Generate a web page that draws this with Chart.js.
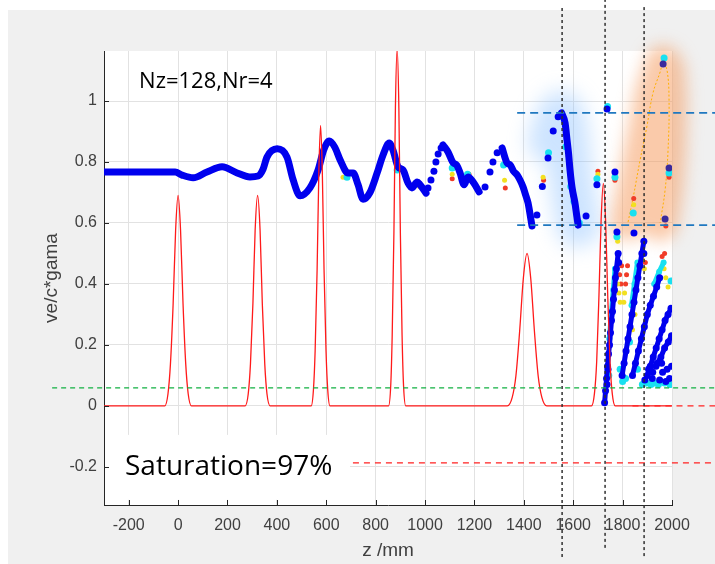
<!DOCTYPE html>
<html>
<head>
<meta charset="utf-8">
<script src="https://cdn.jsdelivr.net/npm/chart.js@4.4.1/dist/chart.umd.min.js"></script>
<style>
  html, body { margin: 0; padding: 0; background: #fff; }
  #wrap { width: 715px; height: 564px; }
</style>
</head>
<body>
<div id="wrap"><canvas id="plot" width="715" height="564"></canvas></div>
<script>
// axis ticks
const zTicks = [-200, 0, 200, 400, 600, 800, 1000, 1200, 1400, 1600, 1800, 2000];
const vTicks = [-0.2, 0, 0.2, 0.4, 0.6, 0.8, 1];

// field profile (red), [z, value]
const fieldProfile = [
  [-300, 0],
  [-54, 0], [-41, 0.039], [-31, 0.137], [-20, 0.336], [-10, 0.576], [0, 0.69], [10, 0.576], [20, 0.336], [31, 0.137], [41, 0.039], [54, 0],
  [271, 0], [284, 0.039], [293, 0.137], [303, 0.336], [312, 0.576], [322, 0.69], [332, 0.576], [341, 0.336], [351, 0.137], [360, 0.039], [373, 0],
  [539, 0], [548, 0.052], [555, 0.182], [563, 0.448], [570, 0.768], [577, 0.92], [584, 0.768], [591, 0.448], [599, 0.182], [606, 0.052], [615, 0],
  [852, 0], [861, 0.066], [867, 0.232], [874, 0.57], [880, 0.977], [887, 1.17], [894, 0.977], [900, 0.57], [907, 0.232], [913, 0.066], [922, 0],
  [1333, 0], [1353, 0.028], [1368, 0.099], [1383, 0.244], [1398, 0.418], [1413, 0.5], [1428, 0.418], [1443, 0.244], [1458, 0.099], [1473, 0.028], [1493, 0],
  [1674, 0], [1686, 0.041], [1695, 0.145], [1704, 0.356], [1713, 0.61], [1722, 0.73], [1731, 0.61], [1740, 0.356], [1749, 0.145], [1758, 0.041], [1770, 0],
  [2000, 0]
];

// ve/c*gama along z, dense stretches
const beamSeg1 = [
  [-300, 0.767], [-150, 0.767], [-12, 0.767], [16, 0.757], [61, 0.748], [117, 0.767], [178, 0.784],
  [239, 0.764], [291, 0.751], [324, 0.754], [344, 0.776], [360, 0.816], [401, 0.843], [441, 0.816],
  [466, 0.741], [494, 0.689], [534, 0.715], [567, 0.774], [590, 0.84], [612, 0.869], [635, 0.848],
  [656, 0.807], [688, 0.764], [709, 0.764], [729, 0.725], [749, 0.678], [777, 0.70], [806, 0.764],
  [830, 0.823], [855, 0.862], [870, 0.839], [891, 0.784], [911, 0.774], [931, 0.731], [947, 0.715],
  [968, 0.734], [980, 0.725], [1004, 0.698]
];
const beamSeg2 = [
  [1073, 0.856], [1093, 0.833], [1114, 0.797], [1128, 0.790], [1142, 0.764], [1158, 0.725],
  [1174, 0.751], [1195, 0.734], [1219, 0.702]
];
const beamSeg3 = [
  [1312, 0.846], [1332, 0.797], [1345, 0.79], [1358, 0.77], [1373, 0.757], [1385, 0.74],
  [1397, 0.718], [1408, 0.69], [1417, 0.666], [1425, 0.63], [1433, 0.59]
];
const beamSeg4 = [
  [1553, 0.961], [1567, 0.928], [1575, 0.872], [1581, 0.829], [1587, 0.774], [1595, 0.718],
  [1607, 0.666], [1615, 0.62], [1620, 0.593]
];

// slanted particle streaks after z=1700
const streakA = [
  [1727, 0.01], [1731, 0.05], [1735, 0.09], [1739, 0.13], [1743, 0.17], [1747, 0.20], [1751, 0.24],
  [1755, 0.28], [1759, 0.31], [1763, 0.35], [1767, 0.38], [1771, 0.42], [1775, 0.45], [1782, 0.50]
];
const streakB = [
  [1798, 0.10], [1806, 0.14], [1814, 0.18], [1822, 0.22], [1830, 0.26], [1838, 0.30], [1846, 0.34],
  [1854, 0.38], [1862, 0.42], [1870, 0.46], [1878, 0.50], [1886, 0.54]
];
const streakC = [
  [1840, 0.10], [1852, 0.14], [1864, 0.18], [1876, 0.22], [1888, 0.26], [1900, 0.30], [1912, 0.33],
  [1925, 0.36], [1938, 0.39], [1950, 0.42]
];
const streakD = [
  [1900, 0.10], [1912, 0.13], [1924, 0.16], [1936, 0.19], [1948, 0.22], [1960, 0.25], [1972, 0.28],
  [1984, 0.30], [1996, 0.32]
];
const streakE = [[1940, 0.14], [1955, 0.16], [1970, 0.19], [1985, 0.21], [1998, 0.23]];
const cyanStreaks = [
  [[1746, 0.22], [1754, 0.30], [1762, 0.38], [1769, 0.45]],
  [[1836, 0.33], [1848, 0.40], [1860, 0.47]],
  [[1928, 0.40], [1948, 0.44], [1966, 0.47]]
];

// scattered particles, coloured by group
const blueDots = [
  [1012, 0.715], [1024, 0.741], [1036, 0.770], [1044, 0.800], [1053, 0.826], [1065, 0.846],
  [1243, 0.718], [1263, 0.767], [1275, 0.800], [1292, 0.830],
  [1453, 0.626], [1475, 0.72], [1498, 0.813], [1519, 0.902], [1539, 0.948], [1652, 0.623],
  [1696, 0.725], [1737, 0.974], [1769, 0.767], [1777, 0.57], [1846, 0.567],
  [1890, 0.085], [1905, 0.12], [1920, 0.09], [1935, 0.13], [1950, 0.085], [1962, 0.11], [1975, 0.08],
  [1990, 0.09], [1998, 0.13], [1741, 0.12], [1737, 0.07], [1784, 0.47], [1886, 0.50],
  [1922, 0.11], [1980, 0.12], [1958, 0.14]
];
const purpleDots = [[1964, 1.121], [1988, 0.78], [1972, 0.613]];
const cyanDots = [
  [684, 0.75], [887, 0.774], [1110, 0.78], [1172, 0.76], [1318, 0.79], [1500, 0.83], [1570, 0.85],
  [1590, 0.72], [1603, 0.67], [1625, 0.6], [1739, 0.982], [1696, 0.745], [1769, 0.75], [1777, 0.555],
  [1843, 0.633], [1968, 1.141], [1988, 0.764],
  [1828, 0.21], [1996, 0.41], [1800, 0.08], [1812, 0.09], [1744, 0.10], [1790, 0.12], [1860, 0.12],
  [1880, 0.07], [1897, 0.075], [1915, 0.07], [1930, 0.075], [1945, 0.07], [1970, 0.075], [1992, 0.07]
];
const yellowDots = [
  [668, 0.75], [978, 0.72], [1110, 0.76], [1175, 0.745], [1322, 0.74], [1478, 0.75], [1587, 0.80],
  [1700, 0.76], [1780, 0.54], [1845, 0.66], [1780, 0.40], [1785, 0.37], [1790, 0.34], [1805, 0.34],
  [1808, 0.37], [1880, 0.48], [1888, 0.45], [1968, 0.45], [1975, 0.42], [1984, 0.39], [1840, 0.25], [1850, 0.30]
];
const redDots = [
  [898, 0.78], [978, 0.73], [1110, 0.745], [1178, 0.76], [1325, 0.715], [1480, 0.74], [1580, 0.82],
  [1598, 0.69], [1700, 0.77], [1769, 0.74], [1845, 0.68], [1788, 0.43], [1793, 0.40], [1796, 0.46],
  [1812, 0.40], [1816, 0.43], [1820, 0.46], [1880, 0.505], [1892, 0.47], [1960, 0.49], [1970, 0.50],
  [1988, 0.75], [1975, 0.59]
];

// orange dotted arc on the right
const orangeArc = [
  [1822, 0.603], [1843, 0.685], [1871, 0.807], [1898, 0.915], [1923, 1.026], [1952, 1.095],
  [1964, 1.124], [1980, 1.10], [1988, 1.003], [1984, 0.839], [1972, 0.708], [1952, 0.60]
];

// marker lines
const blueLevels = [0.961, 0.593];
const greenLevel = 0.059;
const redLevels = [0, -0.187];
const markerZ = [1555, 1729, 1887];

const FONT = '"Liberation Sans", Arial, sans-serif';
const TEXT = '#404040';
const BLUE = '#0000ee';

const toXY = arr => arr.map(([x, y]) => ({ x, y }));

function dots(data, color, r) {
  return {
    type: 'scatter', data: toXY(data), showLine: false,
    pointRadius: r, pointHoverRadius: r, pointBackgroundColor: color, pointBorderWidth: 0
  };
}
function beamLine(data) {
  return {
    type: 'line', data: toXY(data), borderColor: BLUE, borderWidth: 7,
    pointRadius: 0, cubicInterpolationMode: 'monotone', borderCapStyle: 'round', borderJoinStyle: 'round'
  };
}
function streak(data, color, w, r) {
  return {
    type: 'line', data: toXY(data), borderColor: color, borderWidth: w, borderCapStyle: 'round',
    pointRadius: r, pointBackgroundColor: color, pointBorderWidth: 0, tension: 0
  };
}

function strokeGlow(ctx, chart, pts, width, color, blur) {
  const sx = chart.scales.x, sy = chart.scales.y;
  ctx.save();
  ctx.filter = 'blur(' + blur + 'px)';
  ctx.strokeStyle = color;
  ctx.lineWidth = width;
  ctx.lineCap = 'round';
  ctx.lineJoin = 'round';
  ctx.beginPath();
  pts.forEach(([z, v], i) => {
    const x = sx.getPixelForValue(z), y = sy.getPixelForValue(v);
    if (i) ctx.lineTo(x, y); else ctx.moveTo(x, y);
  });
  ctx.stroke();
  ctx.restore();
}

const decor = {
  id: 'decor',
  beforeDraw(chart) {
    const { ctx, chartArea: a } = chart;
    ctx.save();
    ctx.fillStyle = '#ffffff';
    ctx.fillRect(0, 0, chart.width, chart.height);
    ctx.fillStyle = '#f0f0f0';
    ctx.fillRect(8, 10, chart.width - 8, chart.height - 10);
    ctx.fillStyle = '#ffffff';
    ctx.fillRect(a.left, a.top, a.right - a.left, a.bottom - a.top);
    ctx.restore();
  },
  beforeDatasetsDraw(chart) {
    const ctx = chart.ctx;
    strokeGlow(ctx, chart, [[1505, 0.87], [1539, 0.95]].concat(beamSeg4), 44, 'rgba(135,190,255,0.42)', 10);
    strokeGlow(ctx, chart, orangeArc, 36, 'rgba(245,150,85,0.5)', 8);
  },
  afterDraw(chart) {
    const { ctx, chartArea: a } = chart;
    const sx = chart.scales.x, sy = chart.scales.y;
    const X = z => sx.getPixelForValue(z), Y = v => sy.getPixelForValue(v);
    ctx.save();

    // white label box at the bottom left of the axes
    ctx.fillStyle = '#ffffff';
    ctx.fillRect(a.left + 1, Y(-0.095), X(696) - a.left - 1, Y(-0.308) - Y(-0.095));

    // inward tick marks
    ctx.strokeStyle = '#262626';
    ctx.lineWidth = 1;
    ctx.beginPath();
    zTicks.forEach(z => { const x = Math.round(X(z)) + 0.5; ctx.moveTo(x, a.bottom); ctx.lineTo(x, a.bottom - 5); });
    vTicks.forEach(v => { const y = Math.round(Y(v)) + 0.5; ctx.moveTo(a.left, y); ctx.lineTo(a.left + 5, y); });
    ctx.stroke();

    const hline = (v, zFrom, color, dash, w) => {
      ctx.strokeStyle = color; ctx.lineWidth = w; ctx.setLineDash(dash);
      ctx.beginPath(); ctx.moveTo(X(zFrom), Y(v)); ctx.lineTo(chart.width, Y(v)); ctx.stroke();
    };
    blueLevels.forEach(v => hline(v, 1373, '#1f78c0', [8, 5], 1.6));
    hline(greenLevel, -510, '#10b040', [5, 4], 1.4);
    hline(redLevels[0], 1840, '#ff2020', [6, 5], 1.4);
    hline(redLevels[1], 708, '#ff2020', [6, 5], 1.4);

    // vertical dotted markers
    ctx.strokeStyle = '#303030'; ctx.lineWidth = 1.5; ctx.setLineDash([3, 3]);
    const spans = [[1.305, -0.498], [1.335, -0.472], [1.308, -0.498]];
    markerZ.forEach((z, i) => {
      ctx.beginPath(); ctx.moveTo(X(z), Y(spans[i][0])); ctx.lineTo(X(z), Y(spans[i][1])); ctx.stroke();
    });
    ctx.setLineDash([]);

    // text annotations
    ctx.fillStyle = '#000000';
    ctx.textBaseline = 'alphabetic';
    ctx.font = '22px "Open Sans", sans-serif';
    ctx.fillText('Nz=128,Nr=4', X(-158), Y(1.043));
    ctx.font = '28px "Open Sans", sans-serif';
    ctx.fillText('Saturation=97%', X(-215), Y(-0.226));
    ctx.restore();
  }
};

new Chart(document.getElementById('plot'), {
  type: 'line',
  data: {
    datasets: [
      {
        type: 'line', data: toXY(fieldProfile), borderColor: '#ff1a1a', borderWidth: 1.3,
        pointRadius: 0, cubicInterpolationMode: 'monotone'
      },
      beamLine(beamSeg1),
      beamLine(beamSeg2),
      beamLine(beamSeg3),
      beamLine(beamSeg4),
      dots(blueDots, BLUE, 3.5),
      streak(streakA, BLUE, 5, 3.5),
      streak(streakB, BLUE, 5, 3.5),
      streak(streakC, BLUE, 5, 3.5),
      streak(streakD, BLUE, 5, 3.5),
      streak(streakE, BLUE, 5, 3.5),
      dots(purpleDots, '#3a2a9c', 3.5),
      dots(cyanDots, '#18e0f0', 3.5),
      ...cyanStreaks.map(s => streak(s, '#18e0f0', 5, 3)),
      dots(yellowDots, '#f2e020', 2.5),
      dots(redDots, '#f03c28', 2.5),
      {
        type: 'line', data: toXY(orangeArc), borderColor: '#ffb000', borderWidth: 1,
        borderDash: [2, 2], pointRadius: 0, tension: 0.4
      }
    ]
  },
  options: {
    responsive: false,
    animation: false,
    events: [],
    layout: { padding: { left: 0, top: 51, right: 43, bottom: 0 } },
    plugins: { legend: { display: false }, tooltip: { enabled: false } },
    scales: {
      x: {
        type: 'linear', min: -300, max: 2000,
        afterBuildTicks: s => { s.ticks = zTicks.map(v => ({ value: v })); },
        afterFit: s => { s.height = 59; },
        ticks: { callback: v => String(v), font: { family: FONT, size: 16 }, color: TEXT, padding: 11, maxRotation: 0 },
        grid: { color: '#e2e2e2', drawTicks: false },
        border: { color: '#262626' },
        title: { display: true, text: 'z /mm', font: { family: FONT, size: 19 }, color: TEXT, padding: { top: 0, bottom: 2 } }
      },
      y: {
        type: 'linear', min: -0.325, max: 1.164,
        afterBuildTicks: s => { s.ticks = vTicks.map(v => ({ value: v })); },
        afterFit: s => { s.width = 104; },
        ticks: { callback: v => String(v), font: { family: FONT, size: 16 }, color: TEXT, padding: 7 },
        grid: { color: '#e2e2e2', drawTicks: false },
        border: { color: '#262626' },
        title: { display: true, text: 've/c*gama', font: { family: FONT, size: 19 }, color: TEXT, padding: { top: 40, bottom: 0 } }
      }
    }
  },
  plugins: [decor]
});
</script>
</body>
</html>
